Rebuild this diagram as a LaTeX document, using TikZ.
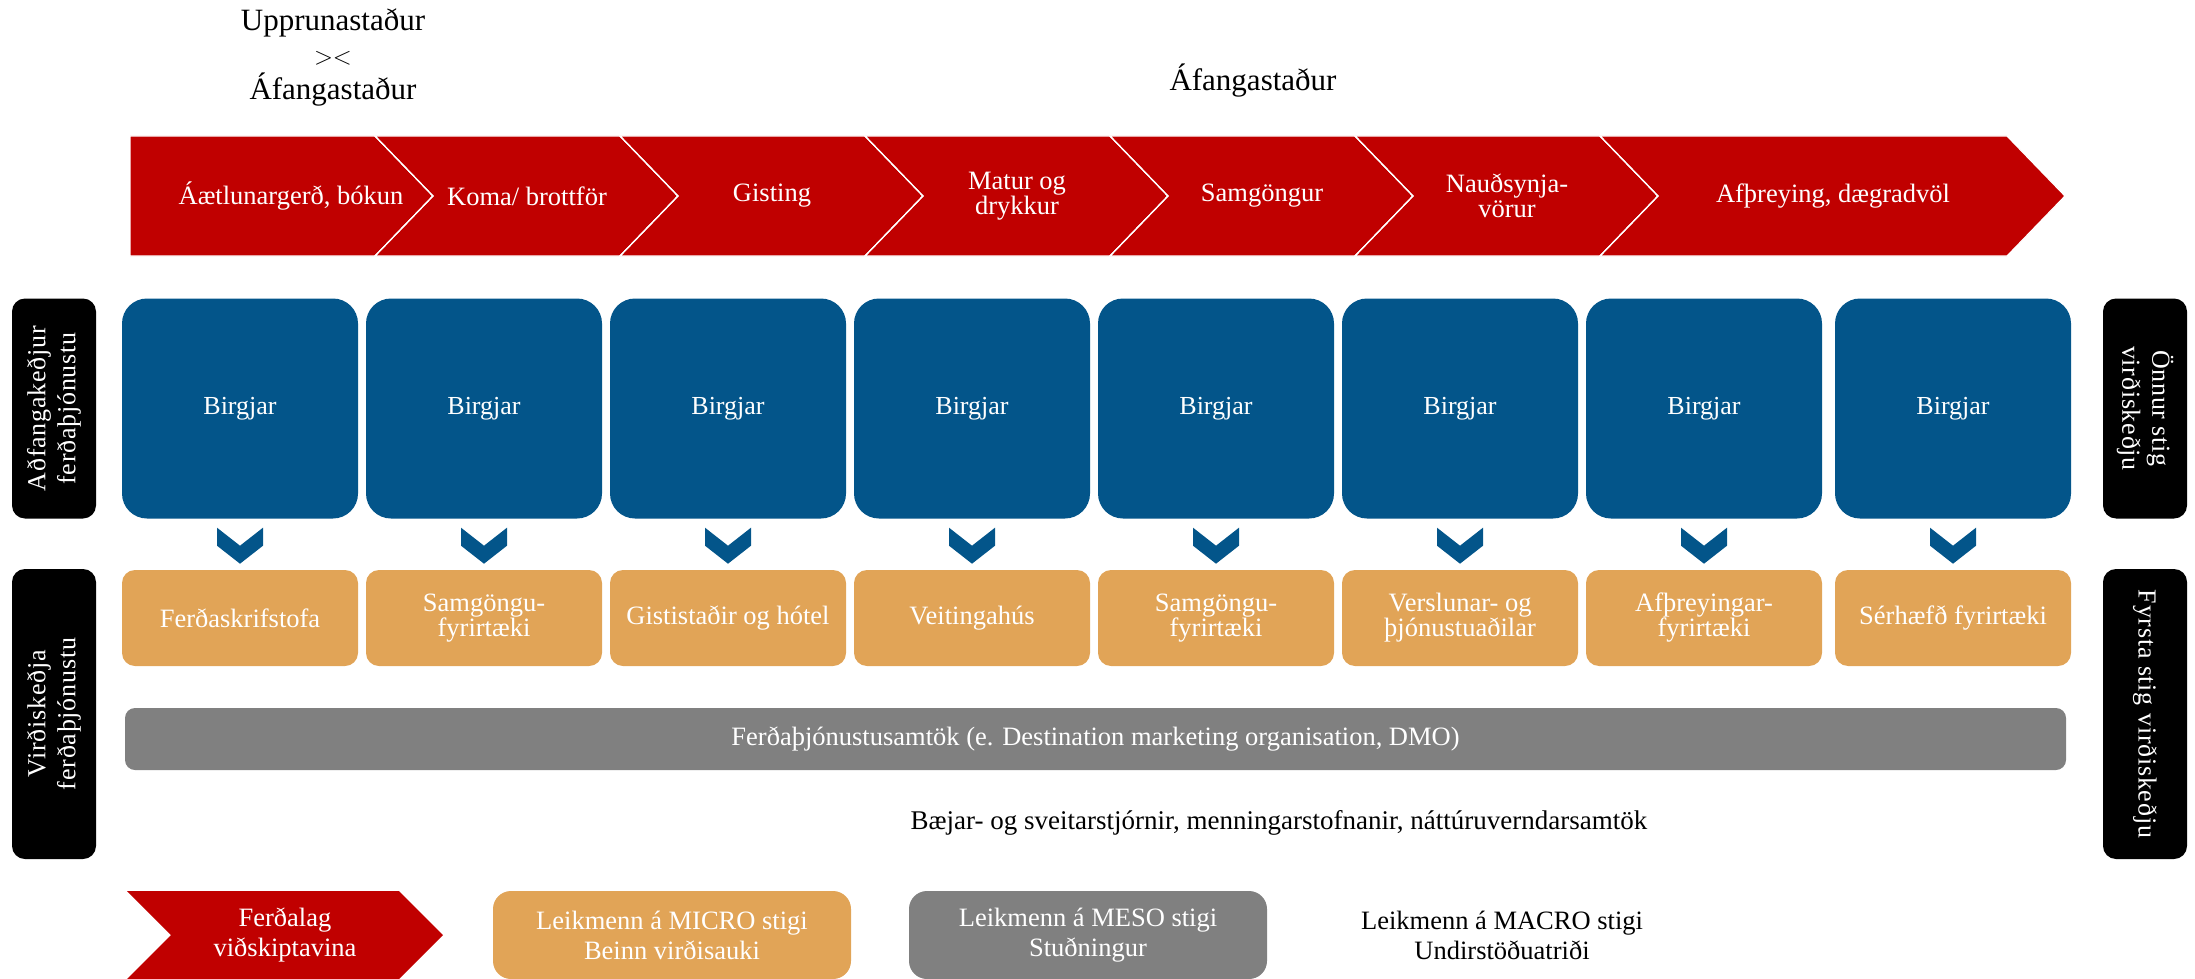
\documentclass[tikz,border=0pt]{standalone}
\usepackage{fontspec}
\setmainfont{Liberation Serif}
\newfontfamily\sidefont[LetterSpace=3]{Liberation Serif}
\usetikzlibrary{calc}
\definecolor{bandred}{HTML}{C00000}
\definecolor{supblue}{HTML}{03558A}
\definecolor{actorange}{HTML}{E1A457}
\definecolor{mesogray}{HTML}{808080}
\begin{document}
\begin{tikzpicture}[x=1pt,y=-1pt,
  bandseg/.style={fill=bandred,draw=white,line width=1.2pt},
  bandlabel/.style={text=white,font=\fontsize{26.5}{25}\selectfont,align=center,inner sep=0},
  birgbox/.style={fill=supblue,rounded corners=25,minimum width=236,minimum height=220,text=white,font=\fontsize{26}{30}\selectfont,inner sep=0},
  firmbox/.style={fill=actorange,rounded corners=13,minimum width=236,minimum height=96,text=white,font=\fontsize{26.5}{25}\selectfont,align=center,inner sep=0},
  sidebox/.style={fill=black,rounded corners=13,text=white,font=\sidefont\fontsize{26}{30}\selectfont,align=center,inner sep=0},
  dmobar/.style={fill=mesogray,rounded corners=10,text=white,font=\fontsize{26.5}{30}\selectfont,inner sep=0},
  plaintext/.style={text=black,align=center,inner sep=0},
  legbox/.style={rounded corners=18,minimum width=358,minimum height=88,text=white,font=\fontsize{26.5}{30}\selectfont,align=center,inner sep=0},
  downchev/.style={fill=supblue}
]
\useasboundingbox (0,0) rectangle (2195,979);

% headings
\node[plaintext,font=\fontsize{31}{35}\selectfont] (orig) at (333,57) {Upprunastaður\\[-1pt]{\fontsize{36}{35}\selectfont${>}{<}$}\\Áfangastaður};
\node[plaintext,font=\fontsize{31}{35}\selectfont] (dest) at (1253,81) {Áfangastaður};

% red chevron band
\def\tp{58}
\fill[bandseg] (130,136) -- (375,136) -- (375+\tp,196) -- (375,256) -- (130,256) -- cycle;
\foreach \a/\b in {375/620,620/865,865/1110,1110/1355,1355/1600}{
  \fill[bandseg] (\a,136) -- (\b,136) -- (\b+\tp,196) -- (\b,256) -- (\a,256) -- (\a+\tp,196) -- cycle;
  \draw[white,line width=1.2pt] (\a,136) -- (\a+\tp,196) -- (\a,256);
}
\fill[bandseg] (1600,136) -- (2007,136) -- (2007+\tp,196) -- (2007,256) -- (1600,256) -- (1600+\tp,196) -- cycle;
\draw[white,line width=1.2pt] (1600,136) -- (1600+\tp,196) -- (1600,256);

\node[bandlabel] (s1) at (291,196) {Áætlunargerð, bókun};
\node[bandlabel] (s2) at (527,196) {Koma/ brottför};
\node[bandlabel] (s3) at (772,196) {Gisting};
\node[bandlabel] (s4) at (1017,196) {Matur og\\drykkur};
\node[bandlabel] (s5) at (1262,196) {Samgöngur};
\node[bandlabel] (s6) at (1507,196) {Nauðsynja-\\vörur};
\node[bandlabel] (s7) at (1833,196) {Afþreying, dægradvöl};

% supplier boxes and firm boxes
\foreach \i/\cx/\lab in {1/240/{Ferðaskrifstofa},2/484/{Samgöngu-\\fyrirtæki},3/728/{Gististaðir og hótel},4/972/{Veitingahús},5/1216/{Samgöngu-\\fyrirtæki},6/1460/{Verslunar- og\\þjónustuaðilar},7/1704/{Afþreyingar-\\fyrirtæki},8/1953/{Sérhæfð fyrirtæki}}{
  \node[birgbox] (b\i) at (\cx,408.5) {Birgjar};
  \node[firmbox] (f\i) at (\cx,618) {\lab};
  \fill[downchev] ($(b\i.south)+(-23,9)$) -- ($(b\i.south)+(0,27)$) -- ($(b\i.south)+(23,9)$)
     -- ($(b\i.south)+(23,27)$) -- ($(b\i.south)+(0,45)$) -- ($(b\i.south)+(-23,27)$) -- cycle;
}

% DMO bar
\node[dmobar,minimum width=1941,minimum height=62] (dmo) at (1095.5,739) {Ferðaþjónustusamtök (e. Destination marketing organisation, DMO)};
\node[plaintext,font=\fontsize{27}{30}\selectfont] (macro) at (1279,823) {Bæjar- og sveitarstjórnir, menningarstofnanir, náttúruverndarsamtök};

% side labels
\node[sidebox,rotate=90,minimum width=220,minimum height=84] (l1) at (54,408.5) {Aðfangakeðjur\\ferðaþjónustu};
\node[sidebox,rotate=90,minimum width=290,minimum height=84] (l2) at (54,714) {Virðiskeðja\\ferðaþjónustu};
\node[sidebox,rotate=-90,minimum width=220,minimum height=84] (r1) at (2145,408.5) {Önnur stig\\virðiskeðju};
\node[sidebox,rotate=-90,minimum width=290,minimum height=84] (r2) at (2145,714) {Fyrsta stig virðiskeðju};

% legend
\fill[bandred] (127,891) -- (399,891) -- (443,935) -- (399,979) -- (127,979) -- (171,935) -- cycle;
\node[bandlabel,font=\fontsize{26.5}{30}\selectfont] (lg1) at (285,935) {Ferðalag\\viðskiptavina};
\node[legbox,fill=actorange] (lg2) at (672,935) {Leikmenn á MICRO stigi\\Beinn virðisauki};
\node[legbox,fill=mesogray] (lg3) at (1088,935) {Leikmenn á MESO stigi\\Stuðningur};
\node[plaintext,font=\fontsize{26.5}{30}\selectfont] (lg4) at (1502,935) {Leikmenn á MACRO stigi\\Undirstöðuatriði};
\end{tikzpicture}
\end{document}
